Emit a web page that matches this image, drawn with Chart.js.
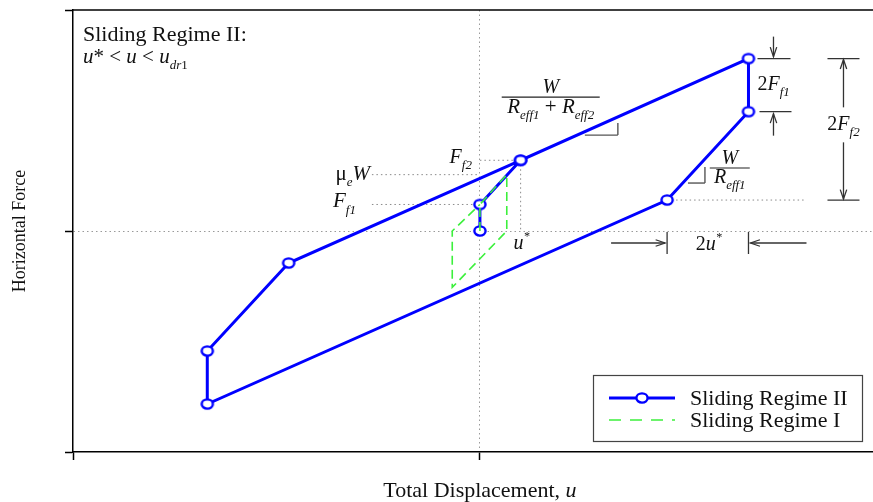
<!DOCTYPE html>
<html>
<head>
<meta charset="utf-8">
<script src="https://cdn.jsdelivr.net/npm/chart.js@4/dist/chart.umd.min.js"></script>
<style>
  html, body { margin: 0; padding: 0; background: #fff; }
  #wrap { width: 873px; height: 502px; position: relative; }
</style>
</head>
<body>
<div id="wrap"><canvas id="c" width="873" height="502"></canvas></div>
<script>
// Force–displacement loop of a sliding bearing (regime II) with the regime I loop inside it
const regime2X = [0, 0, 1, 6.6, 6.6, 4.6, -6.7, -6.7, -4.7, 1];
const regime2Y = [0, 1.2, 3.2, 7.8, 5.4, 1.4, -7.83, -5.43, -1.45, 3.2];
const regime1X = [0, 0, 0.66, 0.66, -0.68, -0.68, 0];
const regime1Y = [0, 1.2, 2.55, 0, -2.55, 0, 1.2];
const seriesLabels = ['Sliding Regime II', 'Sliding Regime I'];
const xTicks = [-10, 0];
const yTicks = [-10, 0, 10];
const xRange = [-10, 9.66];
const yRange = [-10, 10];

// characteristic values used by the labels and dimension lines
const uStar = 1, Ff1 = 1.2, Ff2 = 3.2, muW = 2.55;
const uMax = 6.6, uRev = 4.6, fMax = 7.8, fDrop = 5.4, fRev = 1.4;

const SERIF = '"Liberation Serif", "Times New Roman", serif';
const BLUE = '#0000ff';
const GREEN = '#3cf03c';

// hollow elliptical marker
function makeMarker() {
  const c = document.createElement('canvas');
  c.width = 16; c.height = 14;
  const g = c.getContext('2d');
  g.fillStyle = '#fff';
  g.strokeStyle = BLUE;
  g.lineWidth = 2.4;
  g.beginPath();
  g.ellipse(8, 7, 5.6, 4.6, 0, 0, Math.PI * 2);
  g.fill(); g.stroke();
  return c;
}
const marker = makeMarker();

function toPoints(xs, ys) { return xs.map((v, i) => ({ x: v, y: ys[i] })); }

// mixed roman / italic / sub- and superscript text
function drawRich(ctx, parts, x, y, size, align) {
  const items = [];
  let w = 0;
  for (const [t, s] of parts) {
    let fs = size, dy = 0;
    if (s === 'sub' || s === 'subn') { fs = Math.round(size * 0.64); dy = size * 0.3; }
    if (s === 'sup') { fs = Math.round(size * 0.62); dy = -size * 0.45; }
    const italic = (s === 'i' || s === 'sub' || s === 'sup');
    const font = (italic ? 'italic ' : '') + fs + 'px ' + SERIF;
    ctx.font = font;
    const tw = ctx.measureText(t).width;
    items.push({ t, font, dx: w, dy });
    w += tw;
  }
  const x0 = align === 'center' ? x - w / 2 : align === 'right' ? x - w : x;
  ctx.textAlign = 'left';
  ctx.textBaseline = 'alphabetic';
  for (const it of items) { ctx.font = it.font; ctx.fillText(it.t, x0 + it.dx, y + it.dy); }
  return w;
}

function seg(ctx, x1, y1, x2, y2) {
  ctx.beginPath(); ctx.moveTo(x1, y1); ctx.lineTo(x2, y2); ctx.stroke();
}

// line with an open arrow head at (x2, y2)
function arrow(ctx, x1, y1, x2, y2) {
  seg(ctx, x1, y1, x2, y2);
  const a = Math.atan2(y2 - y1, x2 - x1), L = 10, s = 0.33;
  ctx.beginPath();
  ctx.moveTo(x2 - L * Math.cos(a - s), y2 - L * Math.sin(a - s));
  ctx.lineTo(x2, y2);
  ctx.lineTo(x2 - L * Math.cos(a + s), y2 - L * Math.sin(a + s));
  ctx.stroke();
}

const annotations = {
  id: 'annotations',
  beforeDatasetsDraw(chart) {
    const { ctx, scales: { x, y } } = chart;
    const X = v => x.getPixelForValue(v), Y = v => y.getPixelForValue(v);
    ctx.save();
    ctx.strokeStyle = '#8a8a8a';
    ctx.lineWidth = 1;
    ctx.setLineDash([1.5, 3]);
    seg(ctx, X(0) - 108, Y(muW), X(0), Y(muW));
    seg(ctx, X(0) - 108, Y(Ff1), X(0), Y(Ff1));
    seg(ctx, X(0), Y(Ff2), X(uStar), Y(Ff2));
    seg(ctx, X(uStar), Y(Ff2), X(uStar), Y(0));
    seg(ctx, X(uRev), Y(fRev), X(uRev) + 138, Y(fRev));
    ctx.restore();
  },
  afterDraw(chart) {
    const { ctx, chartArea: ca, scales: { x, y } } = chart;
    const X = v => x.getPixelForValue(v), Y = v => y.getPixelForValue(v);
    ctx.save();

    // frame line along the top of the plot
    ctx.strokeStyle = '#000';
    ctx.lineWidth = 1.5;
    seg(ctx, ca.left, ca.top, ca.right, ca.top);

    ctx.fillStyle = '#111';
    // regime heading
    ctx.font = '22px ' + SERIF;
    ctx.textAlign = 'left'; ctx.textBaseline = 'alphabetic';
    ctx.fillText('Sliding Regime II:', ca.left + 10, ca.top + 31);
    drawRich(ctx, [['u', 'i'], ['*', 'n'], [' < ', 'n'], ['u', 'i'], [' < ', 'n'], ['u', 'i'], ['dr', 'sub'], ['1', 'subn']],
      ca.left + 10, ca.top + 53, 21, 'left');

    // force levels
    drawRich(ctx, [['F', 'i'], ['f2', 'sub']], X(0) - 8, Y(Ff2) + 3, 20, 'right');
    drawRich(ctx, [['\u03bc', 'n'], ['e', 'sub'], ['W', 'i']], X(0) - 110, Y(muW) + 5, 21, 'right');
    drawRich(ctx, [['F', 'i'], ['f1', 'sub']], X(0) - 124, Y(Ff1) + 3, 21, 'right');
    drawRich(ctx, [['u', 'i'], ['*', 'sup']], X(uStar) - 7, Y(0) + 18, 20, 'left');

    // slope marks
    ctx.strokeStyle = '#555';
    ctx.lineWidth = 1.4;
    ctx.setLineDash([]);
    const t1x = X(3.39), t1y = Y(4.34);
    seg(ctx, t1x - 33, t1y, t1x, t1y);
    seg(ctx, t1x, t1y, t1x, t1y - 12);
    const t2x = X(5.53), t2y = Y(2.17);
    seg(ctx, t2x - 17, t2y, t2x, t2y);
    seg(ctx, t2x, t2y, t2x, t2y - 16);

    // W / (Reff1 + Reff2)
    ctx.strokeStyle = '#222';
    ctx.lineWidth = 1.2;
    const f1x = X(1.74), f1y = Y(6.06);
    seg(ctx, f1x - 49, f1y, f1x + 49, f1y);
    drawRich(ctx, [['W', 'i']], f1x, f1y - 4, 20, 'center');
    drawRich(ctx, [['R', 'i'], ['eff1', 'sub'], [' + ', 'n'], ['R', 'i'], ['eff2', 'sub']], f1x, f1y + 16, 21, 'center');

    // W / Reff1
    const f2x = X(6.14), f2y = Y(2.85);
    seg(ctx, f2x - 20, f2y, f2x + 20, f2y);
    drawRich(ctx, [['W', 'i']], f2x, f2y - 4, 20, 'center');
    drawRich(ctx, [['R', 'i'], ['eff1', 'sub']], f2x, f2y + 15, 20, 'center');

    // 2Ff1 dimension
    ctx.strokeStyle = '#333';
    ctx.lineWidth = 1.3;
    const dx1 = X(uMax);
    seg(ctx, dx1 + 9, Y(fMax), dx1 + 42, Y(fMax));
    seg(ctx, dx1 + 11, Y(fDrop), dx1 + 43, Y(fDrop));
    arrow(ctx, dx1 + 25, Y(fMax) - 22, dx1 + 25, Y(fMax) - 2);
    arrow(ctx, dx1 + 25, Y(fDrop) + 24, dx1 + 25, Y(fDrop) + 2);
    drawRich(ctx, [['2', 'n'], ['F', 'i'], ['f1', 'sub']], dx1 + 9, (Y(fMax) + Y(fDrop)) / 2 + 5, 20, 'left');

    // 2Ff2 dimension
    const dx2 = X(uMax) + 95;
    seg(ctx, dx2 - 16, Y(fMax), dx2 + 16, Y(fMax));
    seg(ctx, dx2 - 16, Y(fRev), dx2 + 16, Y(fRev));
    const mid = (Y(fMax) + Y(fRev)) / 2;
    arrow(ctx, dx2, mid - 22, dx2, Y(fMax) + 1);
    arrow(ctx, dx2, mid + 13, dx2, Y(fRev) - 1);
    drawRich(ctx, [['2', 'n'], ['F', 'i'], ['f2', 'sub']], dx2, mid + 1, 20, 'center');

    // 2u* dimension
    const ay = Y(0) + 12;
    seg(ctx, X(uRev), Y(0) + 1, X(uRev), Y(0) + 23);
    seg(ctx, X(uMax), Y(0) + 1, X(uMax), Y(0) + 23);
    arrow(ctx, X(uRev) - 56, ay, X(uRev) - 2, ay);
    arrow(ctx, X(uMax) + 58, ay, X(uMax) + 2, ay);
    ctx.fillStyle = '#111';
    drawRich(ctx, [['2', 'n'], ['u', 'i'], ['*', 'sup']], (X(uRev) + X(uMax)) / 2 + 1, ay + 7, 20, 'center');

    // axis titles
    ctx.font = '18px ' + SERIF;
    ctx.save();
    ctx.translate(20, (ca.top + ca.bottom) / 2);
    ctx.rotate(-Math.PI / 2);
    ctx.textAlign = 'center'; ctx.textBaseline = 'middle';
    ctx.fillText('Horizontal Force', 0, 0);
    ctx.restore();
    drawRich(ctx, [['Total Displacement, ', 'n'], ['u', 'i']], X(0), ca.bottom + 45, 22, 'center');

    // legend
    const lw = 269, lh = 66;
    const lx = chart.width - 11 - lw, ly = ca.bottom - 11 - lh;
    ctx.fillStyle = '#fff';
    ctx.fillRect(lx, ly, lw, lh);
    ctx.strokeStyle = '#444';
    ctx.lineWidth = 1.2;
    ctx.strokeRect(lx + 0.5, ly + 0.5, lw, lh);
    const ds = chart.data.datasets;
    const rows = [ly + 23, ly + 45];
    ds.forEach((d, i) => {
      const ry = rows[i];
      ctx.strokeStyle = d.borderColor;
      ctx.lineWidth = d.borderWidth;
      ctx.setLineDash(i === 0 ? [] : [12, 9]);
      seg(ctx, lx + 16, ry, lx + 82, ry);
      ctx.setLineDash([]);
      if (d.pointRadius) ctx.drawImage(marker, lx + 49 - 8, ry - 7);
      ctx.fillStyle = '#111';
      ctx.font = '22px ' + SERIF;
      ctx.textAlign = 'left'; ctx.textBaseline = 'alphabetic';
      ctx.fillText(d.label, lx + 97, ry + 7);
    });
    ctx.restore();
  }
};

const gridColor = c => (c.tick && c.tick.value === 0) ? '#9a9a9a' : 'rgba(0,0,0,0)';

new Chart(document.getElementById('c'), {
  type: 'scatter',
  data: {
    datasets: [
      {
        label: seriesLabels[0],
        data: toPoints(regime2X, regime2Y),
        showLine: true,
        borderColor: BLUE,
        borderWidth: 3,
        pointStyle: marker,
        pointRadius: 6,
        pointHoverRadius: 6,
        order: 1
      },
      {
        label: seriesLabels[1],
        data: toPoints(regime1X, regime1Y),
        showLine: true,
        borderColor: GREEN,
        borderWidth: 1.6,
        borderDash: [9, 5],
        pointRadius: 0,
        pointHoverRadius: 0,
        order: 0
      }
    ]
  },
  options: {
    responsive: false,
    animation: false,
    events: [],
    layout: { autoPadding: false, padding: { left: 65, top: 10, right: 0, bottom: 42 } },
    plugins: { legend: { display: false }, tooltip: { enabled: false } },
    scales: {
      x: {
        type: 'linear', min: xRange[0], max: xRange[1],
        afterBuildTicks: s => { s.ticks = xTicks.map(v => ({ value: v })); },
        ticks: { display: false },
        grid: { color: gridColor, tickColor: '#000', tickLength: 8, lineWidth: 1, tickWidth: 1.5 },
        border: { color: '#000', width: 1.5, dash: [1.5, 3] }
      },
      y: {
        type: 'linear', min: yRange[0], max: yRange[1],
        afterBuildTicks: s => { s.ticks = yTicks.map(v => ({ value: v })); },
        ticks: { display: false },
        grid: { color: gridColor, tickColor: '#000', tickLength: 8, lineWidth: 1, tickWidth: 1.5 },
        border: { color: '#000', width: 1.5, dash: [1.5, 3] }
      }
    }
  },
  plugins: [annotations]
});
</script>
</body>
</html>
